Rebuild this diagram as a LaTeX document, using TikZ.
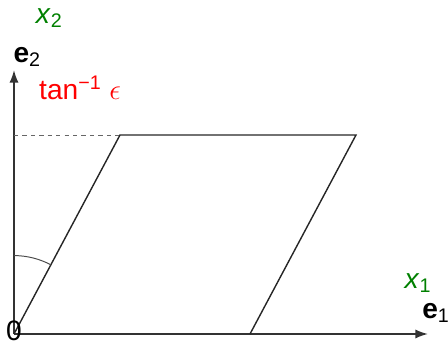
\documentclass[tikz,border=0pt]{standalone}
\usepackage{fontspec}
\setmainfont{Liberation Sans}
\usetikzlibrary{arrows.meta, positioning}

\begin{document}
\begin{tikzpicture}[font=\fontsize{20}{24}\selectfont,
    axis/.style={line width=1.2pt, draw=black!80, -{Latex[length=9pt,width=6.5pt]}},
    edge/.style={line width=1pt, black!85}]
    \useasboundingbox (-0.35,-0.2) rectangle (10.85,8.35);

    \coordinate (O) at (0,0);
    \coordinate (E1) at (10.35,0);
    \coordinate (E2) at (0,6.6);
    \coordinate (A) at (2.65,4.975);
    \coordinate (B) at (8.55,4.975);
    \coordinate (C) at (5.9,0);
    \coordinate (H) at (0,4.975);

    \draw[axis] (O) -- (E1);
    \draw[axis] (O) -- (E2);
    \draw[edge] (O) -- (A) -- (B) -- (C);
    \draw[dashed, gray!80!black, line width=0.7pt] (H) -- (A);
    \draw[gray!60!black, line width=0.7pt] (0,1.96) arc[start angle=90, end angle=61.96, radius=1.96];

    \node [inner sep=0pt] (zero) at (0,0.08) {0};
    \node [inner sep=0pt] (e2) at (0.33,6.93) {\textbf{e}\textsubscript{2}};
    \node [inner sep=0pt, text=green!50!black] (x2) at (0.88,7.9) {\textit{x}\textsubscript{2}};
    \node [inner sep=0pt, text=red] (ang) at (1.65,6.15) {tan\textsuperscript{−1} $\epsilon$};
    \node [inner sep=0pt, anchor=west] (e1) at (10.2,0.53) {\textbf{e}\textsubscript{1}};
    \node [inner sep=0pt, text=green!50!black] (x1) at (10.1,1.27) {\textit{x}\textsubscript{1}};
  \end{tikzpicture}
\end{document}
